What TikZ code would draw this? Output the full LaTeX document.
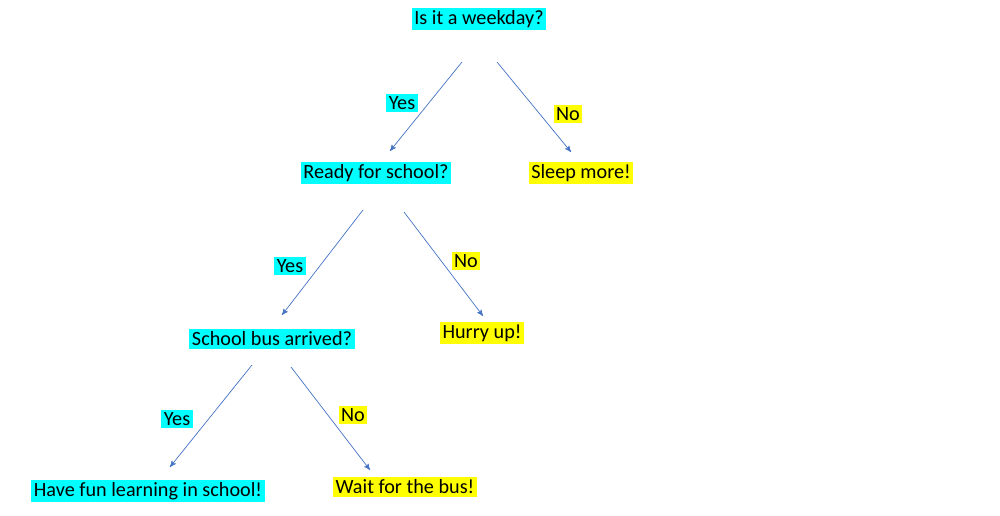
\documentclass[tikz,border=0pt]{standalone}
\usepackage{fontspec}
\setmainfont{Carlito}
\usetikzlibrary{arrows}
\definecolor{qcyan}{HTML}{00FFFF}
\definecolor{qyellow}{HTML}{FFFF00}
\definecolor{edgeblue}{HTML}{4472C4}
\begin{document}
\begin{tikzpicture}[x=0.02cm,y=-0.02cm, ->,>=stealth', semithick,
  font=\fontsize{11.5}{13}\selectfont]
  \tikzstyle{ask}=[fill=qcyan,inner sep=1.5pt,text=black]
  \tikzstyle{done}=[fill=qyellow,inner sep=1.5pt,text=black]
  \tikzstyle{link}=[draw=edgeblue,thin]
  \useasboundingbox (0,0) rectangle (1000,516);

  \node[ask]  (Q1)  at (479,19)  {Is it a weekday?};
  \node[ask]  (Q2)  at (376,173) {Ready for school?};
  \node[done] (A1)  at (581,173) {Sleep more!};
  \node[ask]  (Q3)  at (272,339) {School bus arrived?};
  \node[done] (A2)  at (482,333) {Hurry up!};
  \node[ask]  (A3)  at (148,491) {Have fun learning in school!};
  \node[done] (A4)  at (405,487) {Wait for the bus!};

  \coordinate (q1l) at (462,62);  \coordinate (q1r) at (497,62);
  \coordinate (q2l) at (363,210); \coordinate (q2r) at (404,212);
  \coordinate (q3l) at (252,365); \coordinate (q3r) at (291,367);
  \coordinate (t2) at (390,151);  \coordinate (t1) at (571,152);
  \coordinate (t3) at (282,315);  \coordinate (t4) at (483,316);
  \coordinate (t5) at (170,467);  \coordinate (t6) at (370,470);

  \draw[link] (q1l) -- (t2);
  \draw[link] (q1r) -- (t1);
  \draw[link] (q2l) -- (t3);
  \draw[link] (q2r) -- (t4);
  \draw[link] (q3l) -- (t5);
  \draw[link] (q3r) -- (t6);

  \node[ask]  (y1) at (402,103) {Yes};
  \node[done] (n1) at (568,114) {No};
  \node[ask]  (y2) at (290,266) {Yes};
  \node[done] (n2) at (466,261) {No};
  \node[ask]  (y3) at (177,419) {Yes};
  \node[done] (n3) at (353,415) {No};
\end{tikzpicture}
\end{document}
